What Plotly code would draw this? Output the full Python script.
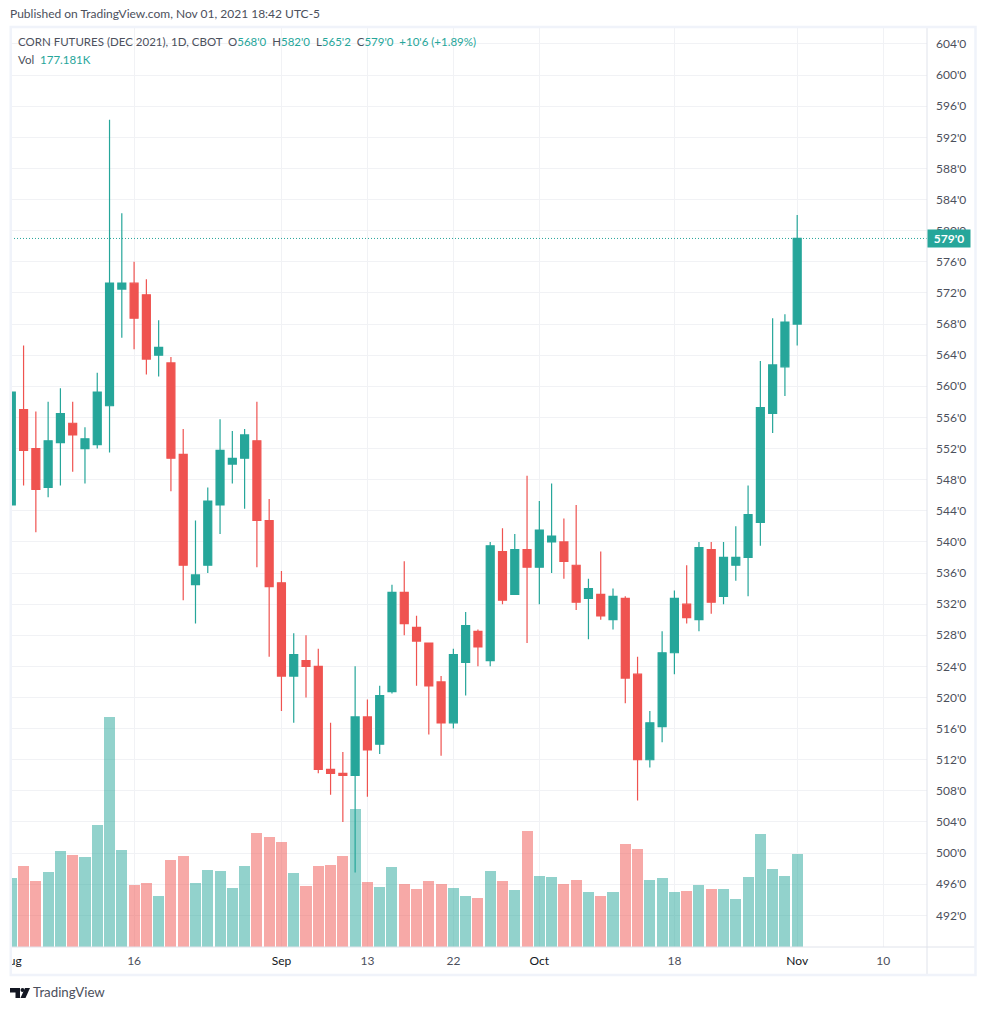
import plotly.graph_objects as go

TEAL = '#26a69a'
RED = '#ef5350'
GRID = '#f1f2f5'
TEXT = '#4c505c'
FONT = 'Lato'

# Daily prices, Aug 2 to Nov 1 2021, in cents
open_prices = [544.75, 557, 552, 547, 552.75, 555.25, 552, 552.5, 557.5, 572.5, 573.25, 571.75, 564, 563, 551.25, 534.5,
               537, 544.75, 550, 550.75, 553, 542.75, 534.75, 522.75, 524.75, 524, 510.75, 510.25, 510, 517.5, 514, 520.75,
               533.5, 529, 527, 522, 516.75, 524.5, 528.5, 524.75, 538.75, 533.25, 539, 536.75, 540, 540, 537, 532.75,
               533.25, 530, 532.75, 523, 512, 516.25, 525.75, 532, 530, 539, 533, 537, 538, 542.5, 556.5, 562.5, 568]
high_prices = [559.75, 565.25, 556.75, 558, 559.75, 558, 554.75, 561.75, 594.25, 582.25, 576, 573.75, 568.5, 563.75, 554.5, 542.75,
               547, 555.75, 554.25, 554.5, 558, 545.5, 536.25, 528.25, 528, 526.25, 516.75, 513, 524, 519.75, 521.5, 534.5,
               537.5, 530.5, 527, 522.75, 526.25, 531, 528.75, 540, 541.75, 541, 548.5, 545.25, 547.5, 543, 544.75, 535.25,
               538.75, 534, 533, 525.25, 518.25, 528.5, 533.75, 537, 540, 540, 540, 542, 547.25, 563.25, 568.75, 569.25, 582]
low_prices = [540.5, 547.25, 541.25, 545.75, 547.25, 549, 547.5, 552, 551.5, 566.25, 564.75, 561.5, 561.25, 546.5, 532.5, 529.5,
              536, 541, 547.5, 544.25, 536.75, 525.25, 518.25, 516.75, 520, 510.25, 507.5, 504, 497.5, 507.25, 512.75, 520.5,
              528, 521.5, 515.25, 512.5, 516, 520.25, 524, 524, 532, 533.25, 527, 532, 536, 535.25, 531.25, 527.5,
              530, 528.75, 519.25, 506.75, 511, 514.25, 523, 529.5, 528.5, 530.75, 532, 535, 533, 539.5, 554, 558.75, 565.25]
close_prices = [559.25, 551.75, 546.75, 553, 556.5, 553.75, 553.25, 559.25, 573.25, 573.25, 568.75, 563.5, 565, 550.75, 537, 535.75,
                545.25, 551.75, 550.75, 553.75, 542.75, 534.25, 522.75, 525.5, 524, 510.75, 510.25, 510, 517.5, 513.25, 520.25, 533.5,
                529.5, 527.25, 521.5, 516.75, 525.5, 529.25, 526.5, 539.5, 532.5, 539, 536.75, 541.5, 540.75, 537.5, 532.25, 534,
                530.5, 533, 522.5, 512, 516.75, 525.75, 532.75, 530.25, 539.25, 532.25, 538, 538, 543.5, 557.25, 562.75, 568.25, 579]

# Volume in thousands of contracts
volumes = [131, 154, 126, 143, 183, 175, 171, 232, 438, 185, 118, 122, 97, 166, 173, 122,
           147, 145, 112, 154, 217, 210, 200, 141, 116, 154, 156, 173, 263, 124, 114, 152,
           120, 110, 126, 120, 112, 97, 93, 145, 126, 109, 221, 135, 133, 120, 128, 105,
           97, 105, 196, 187, 128, 131, 105, 107, 118, 110, 110, 91, 133, 215, 149, 135, 177.181]

day_index = list(range(len(close_prices)))

# Trading day positions of the date labels
date_ticks = [0, 10, 22, 29, 36, 43, 54, 64, 71]
date_labels = ['Aug', '16', 'Sep', '13', '22', 'Oct', '18', 'Nov', '10']
price_ticks = list(range(492, 605, 4))


def fmt_price(p):
    # CBOT quotes corn in eighths of a cent
    return f"{int(p)}'{int((p - int(p)) * 8)}"


# page pixels to paper fractions, plot area is 11..927 by 27..947
def px(x):
    return (x - 11) / 916


def py(y):
    return (947 - y) / 920


def poly(points):
    return 'M' + ' L'.join(f'{px(x)},{py(y)}' for x, y in points) + ' Z'


vol_colors = ['rgba(38,166,154,0.5)' if c >= o else 'rgba(239,83,80,0.5)' for o, c in zip(open_prices, close_prices)]

fig = go.Figure()
fig.add_trace(go.Bar(x=day_index, y=volumes, width=0.9, marker=dict(color=vol_colors, line_width=0),
                     yaxis='y', showlegend=False))
fig.add_trace(go.Candlestick(x=day_index, open=open_prices, high=high_prices, low=low_prices, close=close_prices,
                             increasing=dict(line=dict(color=TEAL, width=1.2), fillcolor=TEAL),
                             decreasing=dict(line=dict(color=RED, width=1.2), fillcolor=RED),
                             whiskerwidth=0, yaxis='y2', showlegend=False))

val = lambda s: f'<span style="color:{TEAL}">{s}</span>'
change = close_prices[-1] - close_prices[-2]
header = ("CORN FUTURES (DEC 2021), 1D, CBOT  "
          f"O{val(fmt_price(open_prices[-1]))}  H{val(fmt_price(high_prices[-1]))}  "
          f"L{val(fmt_price(low_prices[-1]))}  C{val(fmt_price(close_prices[-1]))}  "
          + val(f"+{fmt_price(change)} (+{change / close_prices[-2] * 100:.2f}%)"))

annotations = [
    dict(xref='paper', yref='paper', x=px(8), y=py(14), text='Published on TradingView.com, Nov 01, 2021 18:42 UTC-5',
         showarrow=False, xanchor='left', yanchor='middle', font=dict(size=12, color=TEXT)),
    dict(xref='paper', yref='paper', x=px(16), y=py(42), text=header.replace('  ', '&nbsp;&nbsp;'),
         showarrow=False, xanchor='left', yanchor='middle', font=dict(size=11.5, color=TEXT)),
    dict(xref='paper', yref='paper', x=px(16), y=py(59), text='Vol&nbsp;&nbsp;' + val(f'{volumes[-1]:.3f}K'),
         showarrow=False, xanchor='left', yanchor='middle', font=dict(size=11.5, color=TEXT)),
    dict(xref='paper', yref='paper', x=px(31), y=py(992), text='TradingView',
         showarrow=False, xanchor='left', yanchor='middle', font=dict(size=13.3, color=TEXT)),
    dict(xref='paper', yref='y2', x=1, y=close_prices[-1], text=f'<b>{fmt_price(close_prices[-1])}</b>', showarrow=False,
         xanchor='left', yanchor='middle', width=40, height=15, bgcolor=TEAL, align='center', font=dict(size=12, color='white')),
]

frame = '#f0f3fa'
border = '#e0e3eb'
logo = '#131722'
shapes = [
    # dotted last price line
    dict(type='line', xref='paper', yref='y2', x0=0, x1=1, y0=close_prices[-1], y1=close_prices[-1],
         line=dict(color=TEAL, width=1, dash='1px,2px')),
    # hides the left half of the first date label
    dict(type='rect', xref='paper', yref='paper', x0=px(0), x1=px(10), y0=py(975), y1=py(948), fillcolor='white', line_width=0),
    # pane separators
    dict(type='line', xref='paper', yref='paper', x0=px(927), x1=px(927), y0=py(975), y1=py(27), line=dict(color=border, width=1)),
    dict(type='line', xref='paper', yref='paper', x0=px(12), x1=px(975), y0=py(947), y1=py(947), line=dict(color=border, width=1)),
    # outer frame
    dict(type='rect', xref='paper', yref='paper', x0=px(10.75), x1=px(975.5), y0=py(975), y1=py(27), line=dict(color=frame, width=2.5)),
    # TradingView mark in the footer
    dict(type='path', xref='paper', yref='paper', line_width=0, fillcolor=logo,
         path=poly([(10, 988), (20, 988), (20, 998), (15.5, 998), (15.5, 992.5), (10, 992.5)])),
    dict(type='circle', xref='paper', yref='paper', line_width=0, fillcolor=logo,
         x0=px(20.5), x1=px(24.5), y0=py(992), y1=py(988)),
    dict(type='path', xref='paper', yref='paper', line_width=0, fillcolor=logo,
         path=poly([(25, 988), (30, 988), (25.5, 998), (20.5, 998)])),
]

fig.update_layout(
    width=985, height=1010,
    margin=dict(l=11, r=58, t=27, b=63),
    paper_bgcolor='white', plot_bgcolor='white',
    font=dict(family=FONT, size=12, color=TEXT),
    boxgap=0.35, boxgroupgap=0, bargap=0,
    annotations=annotations, shapes=shapes,
    xaxis=dict(range=[-0.024, 74.57], tickmode='array', tickvals=date_ticks,
               ticktext=[f'<span style="color:#131722">{t}</span>' if t.isalpha() else t for t in date_labels],
               showgrid=True, gridcolor=GRID, gridwidth=1, zeroline=False, showline=False, ticks='', ticklabelstandoff=5,
               automargin=False, rangeslider_visible=False),
    yaxis=dict(range=[0, 1752.6], visible=False, showgrid=False, zeroline=False, automargin=False),
    yaxis2=dict(range=[487.93, 606.18], overlaying='y', side='right', anchor='x', tickmode='array', tickvals=price_ticks,
                ticktext=[fmt_price(p) for p in price_ticks], showgrid=True, gridcolor=GRID, gridwidth=1, zeroline=False,
                showline=False, ticks='', ticklabelstandoff=8, automargin=False),
)

fig.write_html("out.html", post_script="document.body.style.margin='0';", config=dict(displayModeBar=False))
